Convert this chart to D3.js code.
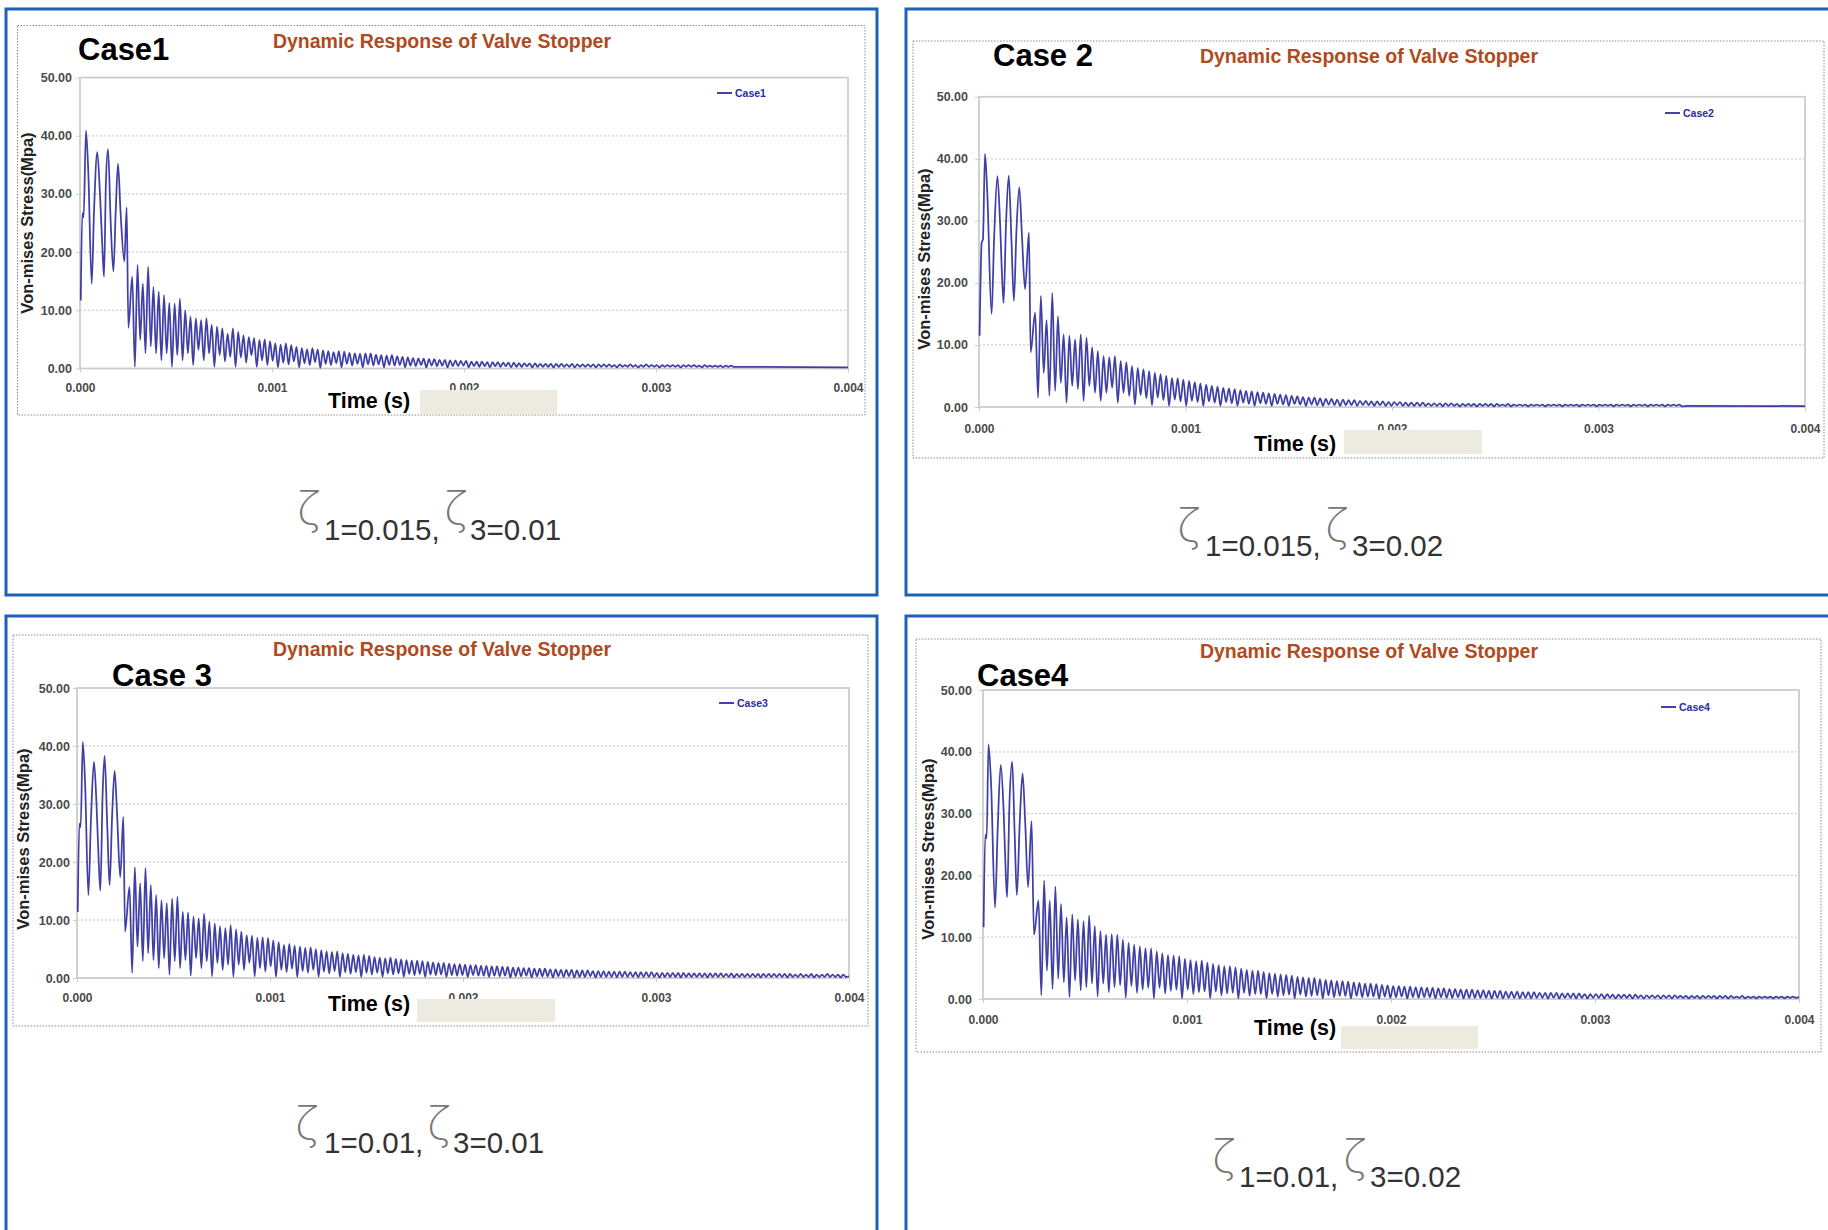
<!DOCTYPE html>
<html>
<head>
<meta charset="utf-8">
<script src="https://cdn.jsdelivr.net/npm/d3@7"></script>
<style>
html,body{margin:0;padding:0;background:#fff;}
svg{display:block;}
</style>
</head>
<body>
<svg id="c" width="1828" height="1230"></svg>
<script>
// ---------------- DATA ----------------
const xTickValues = [0, 0.001, 0.002, 0.003, 0.004];
const xTickLabels = ["0.000", "0.001", "0.002", "0.003", "0.004"];
const yTickValues = [0, 10, 20, 30, 40, 50];
const yTickLabels = ["0.00", "10.00", "20.00", "30.00", "40.00", "50.00"];
const chartTitle = "Dynamic Response of Valve Stopper";
const xAxisTitle = "Time (s)";
const yAxisTitle = "Von-mises Stress(Mpa)";
const caseTitles = ["Case1", "Case 2", "Case 3", "Case4"];
const legendNames = ["Case1", "Case2", "Case3", "Case4"];
const zeta1Values = ["0.015", "0.015", "0.01", "0.01"];
const zeta3Values = ["0.01", "0.02", "0.01", "0.02"];

// oscillation after impact: peak k at oscStartUs + k*oscPeriodUs, trough half a period later
const oscStartUs = 272;
const oscPeriodUs = 27.6;

const case1EarlyUs = [4,12,19,31,43,61,73,90,104,118,125,135,146,160,174,186,198,211,231,243,252];
const case1EarlyStress = [11.7,26.7,26.0,40.9,34.0,14.6,27.0,37.2,30.0,19.8,15.8,32.0,37.7,25.0,16.7,27.0,35.2,27.0,18.4,27.7,7.0];
const case1Peaks = [15.8,17.8,14.6,17.5,14.0, 13.2,12.6,11.3,11.2,12.0, 10.0,8.9,8.6,8.3,8.6, 7.5,7.2,6.9,6.0,6.9, 6.3,5.7,5.4,5.2,4.9, 5.0,4.7,4.3,4.1,4.3, 4.0,3.7,3.5,3.3,3.5, 3.3,3.1,3.0,2.8,3.0, 2.9,2.7,2.6,2.5,2.6, 2.6,2.4,2.3,2.2,2.3, 2.1,2.0,1.9,1.8,1.7, 1.7,1.6,1.6,1.5,1.5, 1.4,1.4,1.3,1.3,1.2, 1.2,1.2,1.1,1.1,1.1, 1.0,1.0,1.0,0.9,0.9, 0.9,0.9,0.8,0.8,0.8, 0.8,0.8,0.7,0.8,0.7, 0.7,0.7,0.7,0.7,0.7, 0.7,0.6,0.7,0.6,0.7, 0.6,0.6,0.7,0.6,0.6, 0.6,0.6,0.6,0.6,0.6, 0.6,0.6,0.5,0.6,0.5, 0.5,0.5,0.5,0.5];
const case1Troughs = [0.3,4.9,2.6,3.8,2.6, 1.4,2.6,0.3,2.3,1.4, 2.6,0.6,3.2,1.4,2.6, 0.3,2.3,1.2,2.0,0.3, 1.9,1.0,2.3,0.3,1.4, 0.6,1.3,0.2,1.0,0.7, 1.2,0.2,0.9,0.6,1.1, 0.1,0.8,0.6,0.9,0.2, 0.8,0.5,0.8,0.2,0.7, 0.5,0.7,0.2,0.6,0.5, 0.6,0.2,0.5,0.4,0.6, 0.2,0.5,0.4,0.5,0.2, 0.4,0.4,0.5,0.2,0.4, 0.3,0.4,0.2,0.4,0.3, 0.4,0.2,0.3,0.3,0.4, 0.2,0.3,0.3,0.3,0.2, 0.3,0.3,0.3,0.2,0.3, 0.3,0.3,0.2,0.3,0.3, 0.3,0.2,0.3,0.3,0.3, 0.2,0.3,0.3,0.3,0.2, 0.3,0.3,0.3,0.2,0.3, 0.3,0.3,0.2,0.3,0.3, 0.3,0.2,0.3,0.3];
const case1TailUs = [3430, 4000];
const case1TailStress = [0.3, 0.2];

const case2EarlyUs = [3,13,19,29,40,61,73,89,102,113,119,131,144,157,169,181,195,208,223,242,250];
const case2EarlyStress = [11.5,26.5,27.0,40.8,34.6,15.0,27.0,37.2,29.7,20.0,16.8,29.7,37.3,27.0,17.1,28.1,35.4,27.6,19.0,28.1,8.8];
const case2Peaks = [15.2,17.9,14.0,18.4,14.6, 11.7,11.5,10.9,11.7,11.2, 9.6,9.0,8.2,8.0,8.2, 7.4,7.2,6.6,6.3,6.1, 5.8,5.5,5.3,5.0,4.7, 4.6,4.4,4.2,4.0,3.8, 3.6,3.4,3.3,3.1,3.0, 2.9,2.7,2.6,2.5,2.4, 2.3,2.2,2.1,2.0,1.9, 1.8,1.7,1.6,1.5,1.5, 1.4,1.3,1.3,1.2,1.2, 1.1,1.1,1.0,1.0,0.9, 0.9,0.9,0.8,0.8,0.8, 0.7,0.7,0.7,0.7,0.6, 0.6,0.6,0.6,0.6,0.5, 0.5,0.5,0.5,0.5,0.5, 0.5,0.5,0.4,0.5,0.4, 0.4,0.4,0.4,0.4,0.4, 0.4,0.4,0.4,0.4,0.4, 0.4,0.4,0.4,0.4,0.4, 0.4,0.4,0.4,0.4,0.4, 0.4,0.4,0.4,0.4,0.4, 0.4,0.4,0.4,0.4];
const case2Troughs = [1.5,5.5,1.8,2.6,3.9, 0.7,3.4,2.9,1.0,3.4, 2.3,1.0,2.3,3.1,0.7, 2.3,1.8,0.4,1.9,1.4, 0.3,1.5,1.1,0.2,1.2, 0.9,0.2,1.0,0.8,0.2, 0.9,0.7,0.2,0.8,0.6, 0.2,0.7,0.5,0.2,0.6, 0.5,0.2,0.5,0.4,0.2, 0.5,0.4,0.2,0.4,0.3, 0.2,0.4,0.3,0.2,0.3, 0.3,0.2,0.3,0.3,0.2, 0.3,0.2,0.2,0.3,0.2, 0.2,0.2,0.2,0.2,0.2, 0.2,0.1,0.2,0.2,0.1, 0.2,0.2,0.1,0.2,0.2, 0.1,0.2,0.2,0.1,0.2, 0.2,0.1,0.2,0.2,0.1, 0.2,0.2,0.1,0.2,0.2, 0.1,0.2,0.2,0.1,0.2, 0.2,0.1,0.2,0.2,0.1, 0.2,0.2,0.1,0.2,0.2, 0.1,0.2,0.2,0.1];
const case2TailUs = [3430, 4000];
const case2TailStress = [0.2, 0.15];

const case3EarlyUs = [4,12,19,30,42,59,72,88,101,113,121,133,143,157,169,182,195,208,224,240,249];
const case3EarlyStress = [11.4,26.6,26.0,40.7,33.5,14.3,27.0,37.3,30.0,19.7,15.1,32.0,38.3,26.0,16.0,28.0,35.7,28.0,17.4,27.8,8.0];
const case3Peaks = [15.7,19.1,16.3,19.0,16.0, 14.3,13.4,12.9,13.7,14.0, 11.4,11.3,10.6,10.3,11.1, 9.7,9.4,8.9,8.6,9.1, 8.4,8.0,7.4,7.3,6.9, 7.0,6.9,6.5,6.2,5.7, 5.9,5.6,5.4,5.2,5.3, 5.0,4.8,4.6,4.5,4.6, 4.3,4.2,4.0,3.9,4.0, 3.8,3.6,3.5,3.4,3.5, 3.3,3.2,3.1,3.0,3.0, 2.9,2.8,2.7,2.6,2.6, 2.5,2.4,2.4,2.3,2.2, 2.2,2.1,2.1,2.0,2.0, 1.9,1.9,1.8,1.8,1.7, 1.7,1.6,1.6,1.6,1.5, 1.5,1.4,1.4,1.4,1.3, 1.3,1.3,1.2,1.2,1.2, 1.1,1.1,1.1,1.1,1.0, 1.0,1.0,1.0,1.0,0.9, 0.9,0.9,0.9,0.9,0.9, 0.8,0.8,0.8,0.8,0.8, 0.8,0.8,0.7,0.8,0.7, 0.7,0.7,0.7,0.7,0.7, 0.7,0.7,0.7,0.7,0.7, 0.6,0.7,0.6,0.7,0.6, 0.6,0.7,0.6,0.6,0.6];
const case3Troughs = [0.9,5.4,2.9,4.3,3.1, 1.7,3.4,0.6,2.9,1.7, 3.1,0.4,3.4,1.7,2.9, 0.3,2.6,1.4,2.3,0.2, 2.3,1.4,2.6,0.3,1.7, 1.1,2.0,0.2,1.4,1.0, 1.6,0.2,1.2,0.9,1.4, 0.2,1.1,0.8,1.2,0.2, 1.0,0.7,1.0,0.2,0.9, 0.6,0.9,0.2,0.8,0.6, 0.8,0.2,0.7,0.5,0.7, 0.2,0.6,0.5,0.6,0.2, 0.5,0.4,0.5,0.2,0.5, 0.4,0.4,0.2,0.4,0.3, 0.4,0.1,0.3,0.3,0.4, 0.1,0.3,0.3,0.3,0.1, 0.3,0.2,0.3,0.1,0.2, 0.2,0.3,0.1,0.2,0.2, 0.2,0.1,0.2,0.2,0.2, 0.1,0.2,0.2,0.2,0.1, 0.2,0.2,0.2,0.1,0.2, 0.2,0.2,0.2,0.1,0.2, 0.2,0.2,0.2,0.1,0.2, 0.2,0.2,0.2,0.1,0.2, 0.2,0.2,0.2,0.1,0.2, 0.2,0.2,0.2,0.1,0.2, 0.2,0.2,0.2,0.1,0.2];
const case3TailUs = [4000];
const case3TailStress = [0.3];

const case4EarlyUs = [3,11,18,27,40,59,72,87,101,112,118,130,143,155,166,180,194,207,221,238,250];
const case4EarlyStress = [11.6,26.6,26.0,41.2,34.5,14.8,27.5,37.9,30.5,20.0,16.5,32.0,38.4,27.0,16.8,28.5,36.5,28.5,18.1,28.8,10.4];
const case4Peaks = [15.9,19.2,15.9,18.2,15.4, 13.2,13.7,12.9,12.6,13.5, 11.8,11.0,10.4,10.5,10.4, 9.6,9.1,8.8,8.5,8.2, 8.2,7.7,7.4,7.1,7.0, 6.9,6.5,6.3,6.1,6.2, 5.9,5.7,5.5,5.3,5.3, 5.1,4.9,4.7,4.6,4.6, 4.4,4.2,4.1,4.0,3.9, 3.8,3.6,3.5,3.4,3.4, 3.2,3.1,3.0,2.9,2.9, 2.8,2.7,2.6,2.5,2.5, 2.4,2.3,2.2,2.1,2.1, 2.0,2.0,1.9,1.9,1.8, 1.8,1.7,1.7,1.6,1.6, 1.5,1.5,1.5,1.4,1.4, 1.3,1.3,1.3,1.2,1.2, 1.2,1.1,1.1,1.1,1.0, 1.0,1.0,1.0,0.9,0.9, 0.9,0.9,0.8,0.8,0.8, 0.8,0.8,0.7,0.7,0.7, 0.7,0.7,0.6,0.6,0.6, 0.6,0.6,0.6,0.6,0.5, 0.5,0.5,0.5,0.5,0.5, 0.5,0.5,0.5,0.5,0.4, 0.5,0.4,0.4,0.4,0.4, 0.4,0.4,0.4,0.4,0.4];
const case4Troughs = [0.6,4.6,1.6,3.3,2.7, 0.3,3.0,1.4,1.9,2.5, 0.4,2.5,1.1,1.9,2.2, 0.2,2.1,1.0,1.5,1.8, 0.1,1.8,0.9,1.3,1.5, 0.1,1.5,0.8,1.1,1.2, 0.1,1.2,0.6,0.9,1.0, 0.1,1.0,0.5,0.8,0.8, 0.1,0.8,0.4,0.6,0.7, 0.1,0.7,0.4,0.5,0.6, 0.1,0.6,0.3,0.5,0.5, 0.1,0.5,0.3,0.4,0.4, 0.1,0.4,0.2,0.3,0.4, 0.1,0.3,0.2,0.3,0.3, 0.1,0.3,0.2,0.2,0.3, 0.1,0.2,0.2,0.2,0.2, 0.1,0.2,0.1,0.2,0.2, 0.1,0.2,0.1,0.2,0.2, 0.1,0.2,0.1,0.2,0.2, 0.1,0.2,0.1,0.2,0.2, 0.1,0.2,0.1,0.2,0.2, 0.1,0.2,0.1,0.2,0.2, 0.1,0.2,0.1,0.2,0.2, 0.1,0.2,0.1,0.2,0.2, 0.1,0.2,0.1,0.2,0.2, 0.1,0.2,0.1,0.2,0.2, 0.1,0.2,0.1,0.2,0.2];
const case4TailUs = [4000];
const case4TailStress = [0.3];

const caseData = [
  {earlyUs: case1EarlyUs, early: case1EarlyStress, peaks: case1Peaks, troughs: case1Troughs, tailUs: case1TailUs, tail: case1TailStress},
  {earlyUs: case2EarlyUs, early: case2EarlyStress, peaks: case2Peaks, troughs: case2Troughs, tailUs: case2TailUs, tail: case2TailStress},
  {earlyUs: case3EarlyUs, early: case3EarlyStress, peaks: case3Peaks, troughs: case3Troughs, tailUs: case3TailUs, tail: case3TailStress},
  {earlyUs: case4EarlyUs, early: case4EarlyStress, peaks: case4Peaks, troughs: case4Troughs, tailUs: case4TailUs, tail: case4TailStress}
];

// ---------------- LAYOUT ----------------
const layouts = [
  {blue:[6,9,871,586], dotted:[17.5,25.5,847.5,389.5], px:[80,848], py:[77.6,368.5],
   title:[442,47.5], caseT:[78,60], caseSize:31, legend:[717,93], yLblX:72, yTitle:[29,223],
   xLblY:391.5, time:[328,407.5], beige:[420,390,137,24],
   zeta:{z1:[297,524], t1:[324,540], z2:[444,524], t2:[470,540]}},
  {blue:[906,9,940,586], dotted:[913,41,911,417], px:[979,1805], py:[96.8,407],
   title:[1369,62.5], caseT:[993,66], caseSize:31, legend:[1665,113], yLblX:968, yTitle:[926,259],
   xLblY:432.5, time:[1254,450.5], beige:[1344,430,138,24],
   zeta:{z1:[1177,541], t1:[1205,556], z2:[1325,541], t2:[1352,556]}},
  {blue:[6,616,871,700], dotted:[13,635,855,391], px:[77,849], py:[688,978],
   title:[442,655.5], caseT:[112,686], caseSize:31, legend:[719,703], yLblX:70, yTitle:[25,839],
   xLblY:1001.5, time:[328,1010.5], beige:[417,999,138,23],
   zeta:{z1:[295,1139], t1:[324,1153], z2:[427,1139], t2:[453,1153]}},
  {blue:[906,616,940,700], dotted:[916,639,905,413], px:[983,1799], py:[690,999],
   title:[1369,657.5], caseT:[977,686], caseSize:31, legend:[1661,707], yLblX:972, yTitle:[930,849],
   xLblY:1023.5, time:[1254,1034.5], beige:[1341,1026,137,23],
   zeta:{z1:[1212,1172], t1:[1239,1187], z2:[1343,1172], t2:[1370,1187]}}
];

const FONT = "'Liberation Sans', Arial, Helvetica, sans-serif";
const svg = d3.select("#c");
svg.append("rect").attr("width",1828).attr("height",1230).attr("fill","#fff");

function buildSeries(cd){
  const pts = [];
  cd.earlyUs.forEach((t,i)=>pts.push({t:t*1e-6, v:cd.early[i]}));
  cd.peaks.forEach((p,k)=>{
    pts.push({t:(oscStartUs + k*oscPeriodUs)*1e-6, v:p});
    pts.push({t:(oscStartUs + (k+0.5)*oscPeriodUs)*1e-6, v:cd.troughs[k]});
  });
  cd.tailUs.forEach((t,i)=>pts.push({t:t*1e-6, v:cd.tail[i]}));
  return pts;
}

layouts.forEach((L, idx) => {
  const g = svg.append("g");
  // blue frame
  g.append("rect").attr("x",L.blue[0]).attr("y",L.blue[1]).attr("width",L.blue[2]).attr("height",L.blue[3])
    .attr("fill","#fff").attr("stroke","#1f60b8").attr("stroke-width",3);
  // dotted chart border
  g.append("rect").attr("x",L.dotted[0]).attr("y",L.dotted[1]).attr("width",L.dotted[2]).attr("height",L.dotted[3])
    .attr("fill","none").attr("stroke","#8a8a8a").attr("stroke-width",1).attr("stroke-dasharray","1.5,1.5");

  const x = d3.scaleLinear().domain([0,0.004]).range(L.px);
  const y = d3.scaleLinear().domain([0,50]).range([L.py[1], L.py[0]]);

  // gridlines
  g.append("g").selectAll("line").data(yTickValues.filter(v=>v>0 && v<50)).join("line")
    .attr("x1",L.px[0]).attr("x2",L.px[1]).attr("y1",d=>y(d)).attr("y2",d=>y(d))
    .attr("stroke","#cfcfcf").attr("stroke-width",1.3).attr("stroke-dasharray","2,2");
  // plot border
  g.append("rect").attr("x",L.px[0]).attr("y",L.py[0]).attr("width",L.px[1]-L.px[0]).attr("height",L.py[1]-L.py[0])
    .attr("fill","none").attr("stroke","#cdcdcd").attr("stroke-width",1.8);

  // axes (labels via d3 axes)
  const yAxis = d3.axisLeft(y).tickValues(yTickValues).tickFormat((d,i)=>yTickLabels[i]).tickSize(4).tickPadding(L.px[0]-L.yLblX-4);
  const ya = g.append("g").attr("transform",`translate(${L.px[0]},0)`).call(yAxis);
  ya.select(".domain").remove();
  ya.selectAll("line").attr("stroke","#cdcdcd");
  ya.selectAll("text").attr("font-family",FONT).attr("font-size",12.5).attr("font-weight","bold").attr("fill","#4a4a4a");

  const xAxis = d3.axisBottom(x).tickValues(xTickValues).tickFormat((d,i)=>xTickLabels[i]).tickSize(4).tickPadding(0);
  const xa = g.append("g").attr("transform",`translate(0,${L.py[1]})`).call(xAxis);
  xa.select(".domain").remove();
  xa.selectAll("line").attr("stroke","#cdcdcd");
  xa.selectAll("text").attr("font-family",FONT).attr("font-size",12).attr("font-weight","bold").attr("fill","#4a4a4a")
    .attr("dy",null).attr("y", L.xLblY - L.py[1]).attr("dominant-baseline","auto");

  // series line
  const pts = buildSeries(caseData[idx]);
  const line = d3.line().x(d=>x(d.t)).y(d=>y(d.v)).curve(d3.curveMonotoneX);
  g.append("path").datum(pts).attr("d",line).attr("fill","none")
    .attr("stroke","#2a2a9c").attr("stroke-width",1.75).attr("stroke-linejoin","round").attr("opacity",0.9);

  // titles
  g.append("text").attr("x",L.title[0]).attr("y",L.title[1]).attr("text-anchor","middle")
    .attr("font-family",FONT).attr("font-size",19.5).attr("font-weight","bold").attr("fill","#b04a20").text(chartTitle);
  g.append("text").attr("x",L.caseT[0]).attr("y",L.caseT[1])
    .attr("font-family",FONT).attr("font-size",L.caseSize).attr("font-weight","bold").attr("fill","#000").text(caseTitles[idx]);

  // legend
  g.append("line").attr("x1",L.legend[0]).attr("x2",L.legend[0]+15).attr("y1",L.legend[1]).attr("y2",L.legend[1])
    .attr("stroke","#2c2ca0").attr("stroke-width",1.8);
  g.append("text").attr("x",L.legend[0]+18).attr("y",L.legend[1]+3.5)
    .attr("font-family",FONT).attr("font-size",10.5).attr("font-weight","bold").attr("fill","#2c2ca0").text(legendNames[idx]);

  // axis titles
  g.append("text").attr("transform",`translate(${L.yTitle[0]},${L.yTitle[1]}) rotate(-90)`).attr("text-anchor","middle")
    .attr("dominant-baseline","middle")
    .attr("font-family",FONT).attr("font-size",16.5).attr("font-weight","bold").attr("fill","#222").text(yAxisTitle);
  g.append("rect").attr("x",L.beige[0]).attr("y",L.beige[1]).attr("width",L.beige[2]).attr("height",L.beige[3]).attr("fill","#edeae0");
  g.append("text").attr("x",L.time[0]).attr("y",L.time[1])
    .attr("font-family",FONT).attr("font-size",21.5).attr("font-weight","bold").attr("fill","#000").text(xAxisTitle);

  // damping ratios
  const Z = L.zeta;
  const zt = (p)=>g.append("text").attr("x",p[0]).attr("y",p[1]).attr("font-family","'DejaVu Sans', sans-serif")
      .attr("font-weight",200).attr("font-size",44).attr("fill","#777").text("ζ");
  zt(Z.z1); zt(Z.z2);
  g.append("text").attr("x",Z.t1[0]).attr("y",Z.t1[1]).attr("font-family",FONT).attr("font-size",29.5).attr("fill","#333")
    .text("1=" + zeta1Values[idx] + ",");
  g.append("text").attr("x",Z.t2[0]).attr("y",Z.t2[1]).attr("font-family",FONT).attr("font-size",29.5).attr("fill","#333")
    .text("3=" + zeta3Values[idx]);
});
</script>
</body>
</html>
